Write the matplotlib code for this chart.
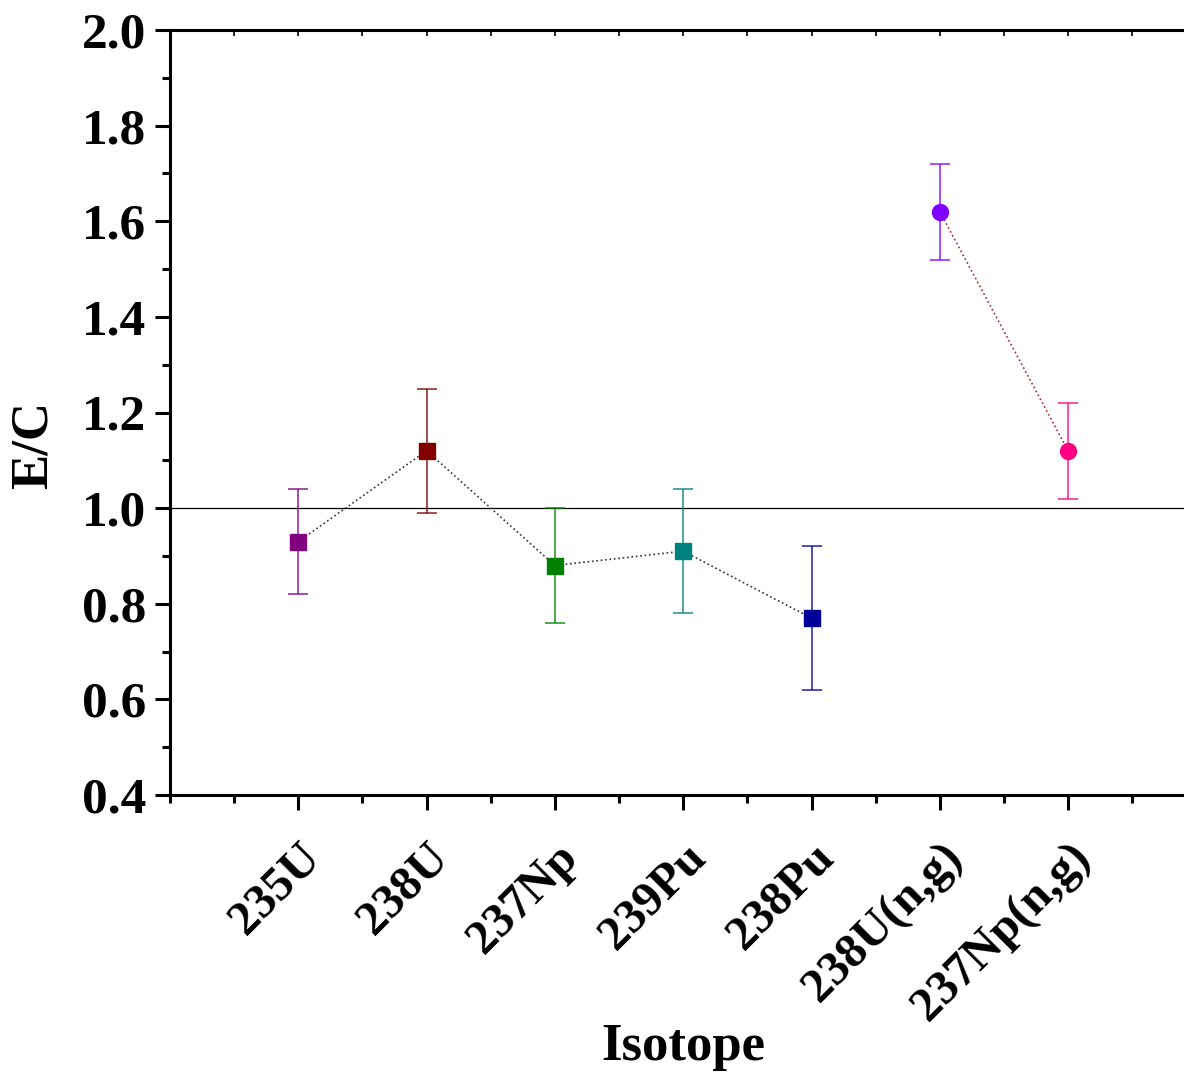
import matplotlib
matplotlib.use("Agg")
import matplotlib.pyplot as plt
from matplotlib.ticker import MultipleLocator

# Razones E/C por isótopo
isotopos = ['235U', '238U', '237Np', '239Pu', '238Pu', '238U(n,g)', '237Np(n,g)']
ec = [0.93, 1.12, 0.88, 0.91, 0.77, 1.62, 1.12]
err = [0.11, 0.13, 0.12, 0.13, 0.15, 0.10, 0.10]
colores = ['#800080', '#800000', '#008000', '#008080', '#000099', '#8000FF', '#FF0080']
marcadores = ['s', 's', 's', 's', 's', 'o', 'o']

# Dos grupos: fisiones (0-4) y capturas (5-6)
grupo_fision = [0, 1, 2, 3, 4]
grupo_captura = [5, 6]

plt.rcParams['font.family'] = ['Liberation Serif', 'DejaVu Serif']
plt.rcParams['font.weight'] = 'bold'

fig = plt.figure(figsize=(11.84, 10.78), dpi=100)
ax = fig.add_axes([170 / 1184, 1 - 795 / 1078, 1026.4 / 1184, 765 / 1078])

x = list(range(1, len(isotopos) + 1))

ax.axhline(1.0, color='black', lw=0.9, zorder=1)

ax.plot([x[i] for i in grupo_fision], [ec[i] for i in grupo_fision],
        ls=':', color='#333333', lw=1.2, zorder=2)
ax.plot([x[i] for i in grupo_captura], [ec[i] for i in grupo_captura],
        ls=':', color='#a03030', lw=1.2, zorder=2)

for i in range(len(isotopos)):
    ax.errorbar(x[i], ec[i], yerr=err[i], fmt='none', ecolor=colores[i],
                elinewidth=1.3, capsize=7, capthick=1.3, alpha=0.75, zorder=3)
    ax.plot(x[i], ec[i], marker=marcadores[i], color=colores[i],
            markersize=11.5, ls='none', zorder=4)

ax.set_xlim(0, 8)
ax.set_ylim(0.4, 2.0)
ax.set_xticks(x)
ax.set_xticklabels(isotopos, rotation=45, ha='right', rotation_mode='anchor',
                   fontsize=35, fontweight='bold')
ax.xaxis.set_minor_locator(MultipleLocator(0.5))
ax.yaxis.set_major_locator(MultipleLocator(0.2))
ax.yaxis.set_minor_locator(MultipleLocator(0.1))
for lbl in ax.get_yticklabels():
    lbl.set_fontsize(37)
    lbl.set_fontweight('bold')

ax.tick_params(axis='y', which='major', direction='out', length=11, width=2.2, pad=6)
ax.tick_params(axis='y', which='minor', direction='out', length=6, width=2.2)
ax.tick_params(axis='x', which='major', bottom=True, direction='out', length=11, width=2.2, pad=18)
ax.tick_params(axis='x', which='minor', bottom=True, direction='out', length=6, width=2.2)
# marcas pequeñas hacia dentro en el eje superior
ax.tick_params(axis='x', which='both', top=True, labeltop=False)
for t in ax.xaxis.get_major_ticks() + ax.xaxis.get_minor_ticks():
    t.tick2line.set_markersize(4)
    t.tick2line.set_markeredgewidth(1.2)
    t.tick2line.set_marker(3)  # TICKDOWN: hacia dentro en el borde superior

for lado in ['left', 'bottom', 'top']:
    ax.spines[lado].set_linewidth(2.2)
ax.spines['right'].set_visible(False)

ax.set_ylabel('E/C', fontsize=38, fontweight='bold')
ax.yaxis.set_label_coords(-0.110, 0.457)
ax.set_xlabel('Isotope', fontsize=38, fontweight='bold')
ax.xaxis.set_label_coords(0.5, -0.298)

fig.text(785 / 1184, 1.012, 'a', fontsize=30, fontweight='bold', ha='center', va='center')

fig.savefig('out.png', dpi=100)
